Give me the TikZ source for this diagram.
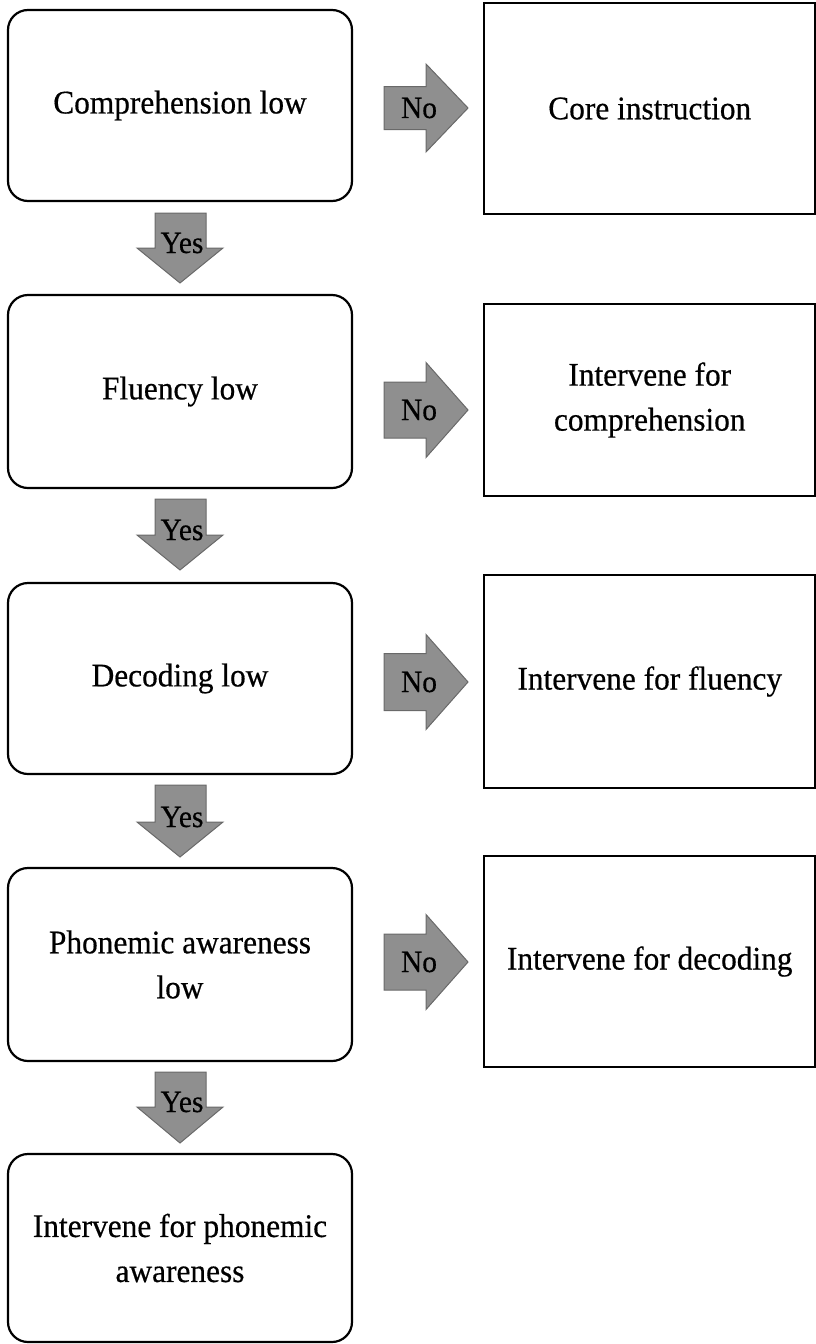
\documentclass[tikz,border=0pt]{standalone}
\usepackage{fontspec}
\setmainfont[FakeStretch=0.95,FakeBold=0.5]{Liberation Serif}
\definecolor{arrowgray}{RGB}{143,143,143}
\definecolor{arrowedge}{RGB}{105,105,105}
\newcommand{\noarrow}[4]{%
  \draw[blockarrow] (384,#2-#3) -- (426,#2-#3) -- (426,#2-#4) -- (468,#2) -- (426,#2+#4) -- (426,#2+#3) -- (384,#2+#3) -- cycle;
  \node[lbl] (#1) at (419,#2) {No};}
\newcommand{\yesarrow}[4]{%
  \draw[blockarrow] (155,#2) -- (206,#2) -- (206,#3) -- (223,#3) -- (180,#4) -- (137,#3) -- (155,#3) -- cycle;
  \node[lbl] (#1) at (182,#3-5) {Yes};}
\begin{document}
\begin{tikzpicture}[x=1pt,y=-1pt,
  qbox/.style={draw=black, line width=2.2pt, rounded corners=20pt, align=center, inner sep=0pt,
    minimum width=344pt, font=\fontsize{33}{45}\selectfont},
  abox/.style={draw=black, line width=2.2pt, align=center, inner sep=0pt,
    minimum width=331.5pt, font=\fontsize{33}{45}\selectfont},
  blockarrow/.style={fill=arrowgray, draw=arrowedge, line width=1pt},
  lbl/.style={font=\fontsize{31}{34}\selectfont, inner sep=0pt}]
\path[use as bounding box] (0,0) rectangle (816,1344);

% question boxes
\node[qbox, minimum height=191pt] (q1) at (180,105.5) {Comprehension low};
\node[qbox, minimum height=193pt] (q2) at (180,391.5) {Fluency low};
\node[qbox, minimum height=191pt] (q3) at (180,678.5) {Decoding low};
\node[qbox, minimum height=193pt] (q4) at (180,964.5) {Phonemic awareness\\low};
\node[qbox, minimum height=188pt] (q5) at (180,1248) {Intervene for phonemic\\awareness};

% action boxes
\node[abox, minimum height=211pt] (a1) at (649.75,108.5) {Core instruction};
\node[abox, minimum height=192pt] (a2) at (649.75,400) {Intervene for\\comprehension};
\node[abox, minimum height=213pt] (a3) at (649.75,681.5) {Intervene for fluency};
\node[abox, minimum height=211pt] (a4) at (649.75,961.5) {Intervene for decoding};

% No arrows
\noarrow{n1}{108}{21.5}{44}
\noarrow{n2}{410}{28}{47.5}
\noarrow{n3}{682}{28.5}{47.5}
\noarrow{n4}{962}{28}{47.5}

% Yes arrows
\yesarrow{y1}{213}{248}{283}
\yesarrow{y2}{499}{535}{570}
\yesarrow{y3}{785}{822}{857}
\yesarrow{y4}{1072}{1107}{1143}
\end{tikzpicture}
\end{document}
